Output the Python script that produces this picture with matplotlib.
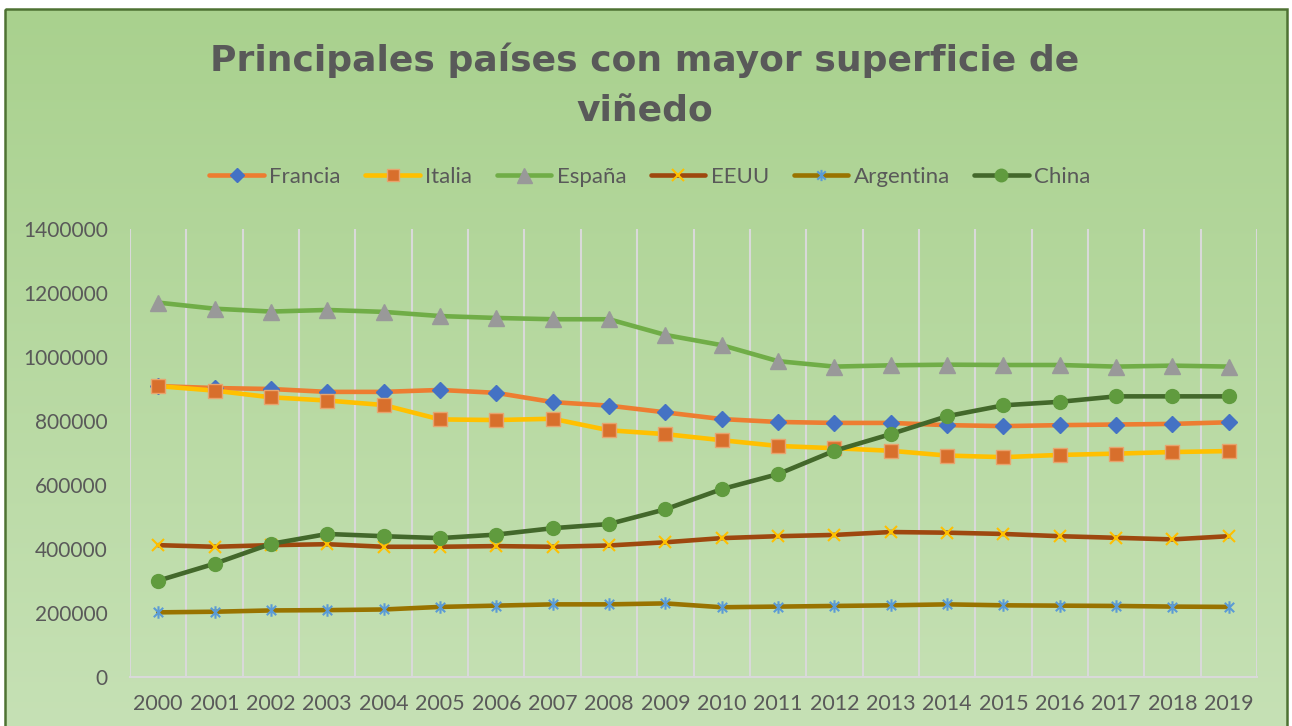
import numpy as np
import matplotlib
matplotlib.use("Agg")
import matplotlib.pyplot as plt
from matplotlib.path import Path
from matplotlib.patches import Rectangle

# ---------------- data ----------------
years = [str(y) for y in range(2000, 2020)]
francia = [909000, 903000, 900000, 891000, 891000, 897000, 888000, 859000, 848000, 827000,
           806000, 797000, 794000, 794000, 787000, 784000, 787000, 789000, 791000, 796000]
italia = [909000, 895000, 874000, 864000, 850000, 805000, 803000, 807000, 771000, 759000,
          740000, 722000, 715000, 707000, 692000, 687000, 694000, 698000, 703000, 706000]
espana = [1170000, 1151000, 1142000, 1147000, 1141000, 1128000, 1122000, 1118000, 1118000, 1069000,
          1037000, 987000, 970000, 974000, 976000, 975000, 975000, 970000, 973000, 970000]
eeuu = [412000, 407000, 412000, 415000, 407000, 407000, 409000, 407000, 411000, 421000,
        434000, 440000, 444000, 453000, 451000, 447000, 440000, 435000, 430000, 440000]
argentina = [202000, 204000, 208000, 209000, 211000, 219000, 223000, 227000, 227000, 230000,
             218000, 220000, 222000, 224000, 227000, 224000, 223000, 222000, 220000, 219000]
china = [301000, 354000, 416000, 447000, 440000, 434000, 445000, 465000, 478000, 524000,
         587000, 634000, 707000, 759000, 815000, 849000, 860000, 877000, 877000, 877000]
series_names = ["Francia", "Italia", "España", "EEUU", "Argentina", "China"]
yticks = list(range(0, 1400001, 200000))
title = "Principales países con mayor superficie de\nviñedo"

# ---------------- style ----------------
W, H = 1292, 726
FONT = "Lato"
TXT = "#595959"

star = Path([(0, -1), (0, 1), (-0.75, -0.75), (0.75, 0.75), (-0.75, 0.75), (0.75, -0.75)],
            [Path.MOVETO, Path.LINETO, Path.MOVETO, Path.LINETO, Path.MOVETO, Path.LINETO])

styles = {
    "Francia":   dict(color="#ED7D31", marker="D", mfc="#4472C4", mec="#4472C4", ms=8, mew=1),
    "Italia":    dict(color="#FFC000", marker="s", mfc="#D86F2C", mec="#E8A46E", ms=10, mew=1),
    "España":    dict(color="#70AD47", marker="^", mfc="#999999", mec="#999999", ms=12, mew=1),
    "EEUU":      dict(color="#9E480E", marker="x", mfc="none", mec="#FFC000", ms=9, mew=1.5),
    "Argentina": dict(color="#997300", marker=star, mfc="none", mec="#5B9BD5", ms=9, mew=1.5),
    "China":     dict(color="#43682B", marker="o", mfc="#609B3E", mec="#609B3E", ms=10, mew=1),
}
data = {"Francia": francia, "Italia": italia, "España": espana,
        "EEUU": eeuu, "Argentina": argentina, "China": china}

fig = plt.figure(figsize=(W / 100, H / 100), dpi=100)
fig.patch.set_facecolor("white")

# background with gradient
bg = fig.add_axes([0, 0, 1, 1], zorder=-10)
bg.axis("off")
top = np.array([169, 209, 142]) / 255
bot = np.array([198, 225, 181]) / 255
t = np.linspace(0, 1, 256)[:, None]
grad = (top[None, :] * (1 - t) + bot[None, :] * t)[:, None, :]
bg.imshow(grad, extent=[5, 1287, H + 2, 9], aspect="auto", interpolation="bilinear")
bg.add_patch(Rectangle((5, 9), 1282, H + 5, fill=False, edgecolor="#4E7233", lw=1.8))
bg.set_xlim(0, W)
bg.set_ylim(H, 0)

ax = fig.add_axes([130 / W, 1 - 677 / H, (1257 - 130) / W, (677 - 229) / H])
ax.set_facecolor("none")

lines = []
for i, name in enumerate(series_names):
    s = styles[name]
    ln, = ax.plot(years, data[name], color=s["color"], lw=3.3, marker=s["marker"],
                  markerfacecolor=s["mfc"], markeredgecolor=s["mec"], markersize=s["ms"],
                  markeredgewidth=s["mew"], solid_joinstyle="round", solid_capstyle="round",
                  label=name, zorder=3 + i)
    lines.append(ln)

ax.set_xlim(-0.5, len(years) - 0.5)
ax.set_ylim(0, 1400000)
ax.set_yticks(yticks)
ax.set_yticklabels([str(v) for v in yticks])
ax.set_xticks(range(len(years)))
ax.set_xticklabels(years)
ax.set_xticks(np.arange(-0.5, len(years), 1.0), minor=True)
ax.grid(False)
ax.grid(True, which="minor", axis="x", color="#D9D9D9", lw=1.5, zorder=1)
ax.tick_params(axis="both", which="both", length=0)
ax.tick_params(axis="y", pad=16, labelsize=15, labelcolor=TXT)
ax.tick_params(axis="x", pad=12, labelsize=15.5, labelcolor=TXT)
for lab in ax.get_xticklabels() + ax.get_yticklabels():
    lab.set_family(FONT)
for sp in ["top", "right", "left"]:
    ax.spines[sp].set_visible(False)
ax.spines["bottom"].set_color("#D9D9D9")
ax.spines["bottom"].set_linewidth(1.5)

fig.text(645 / W, 1 - 122 / H, title, ha="center", va="baseline", fontsize=26,
         fontweight="bold", family="DejaVu Sans", color=TXT, linespacing=1.63)

leg = fig.legend(handles=lines, loc="center", bbox_to_anchor=(650 / W, 1 - 177 / H),
                 ncol=6, frameon=False, handlelength=2.45, handletextpad=0.25,
                 columnspacing=1.1, numpoints=1, markerscale=0.9,
                 prop={"family": FONT, "size": 16})
for txt in leg.get_texts():
    txt.set_color(TXT)

fig.savefig("out.png", dpi=100, facecolor=fig.get_facecolor())
